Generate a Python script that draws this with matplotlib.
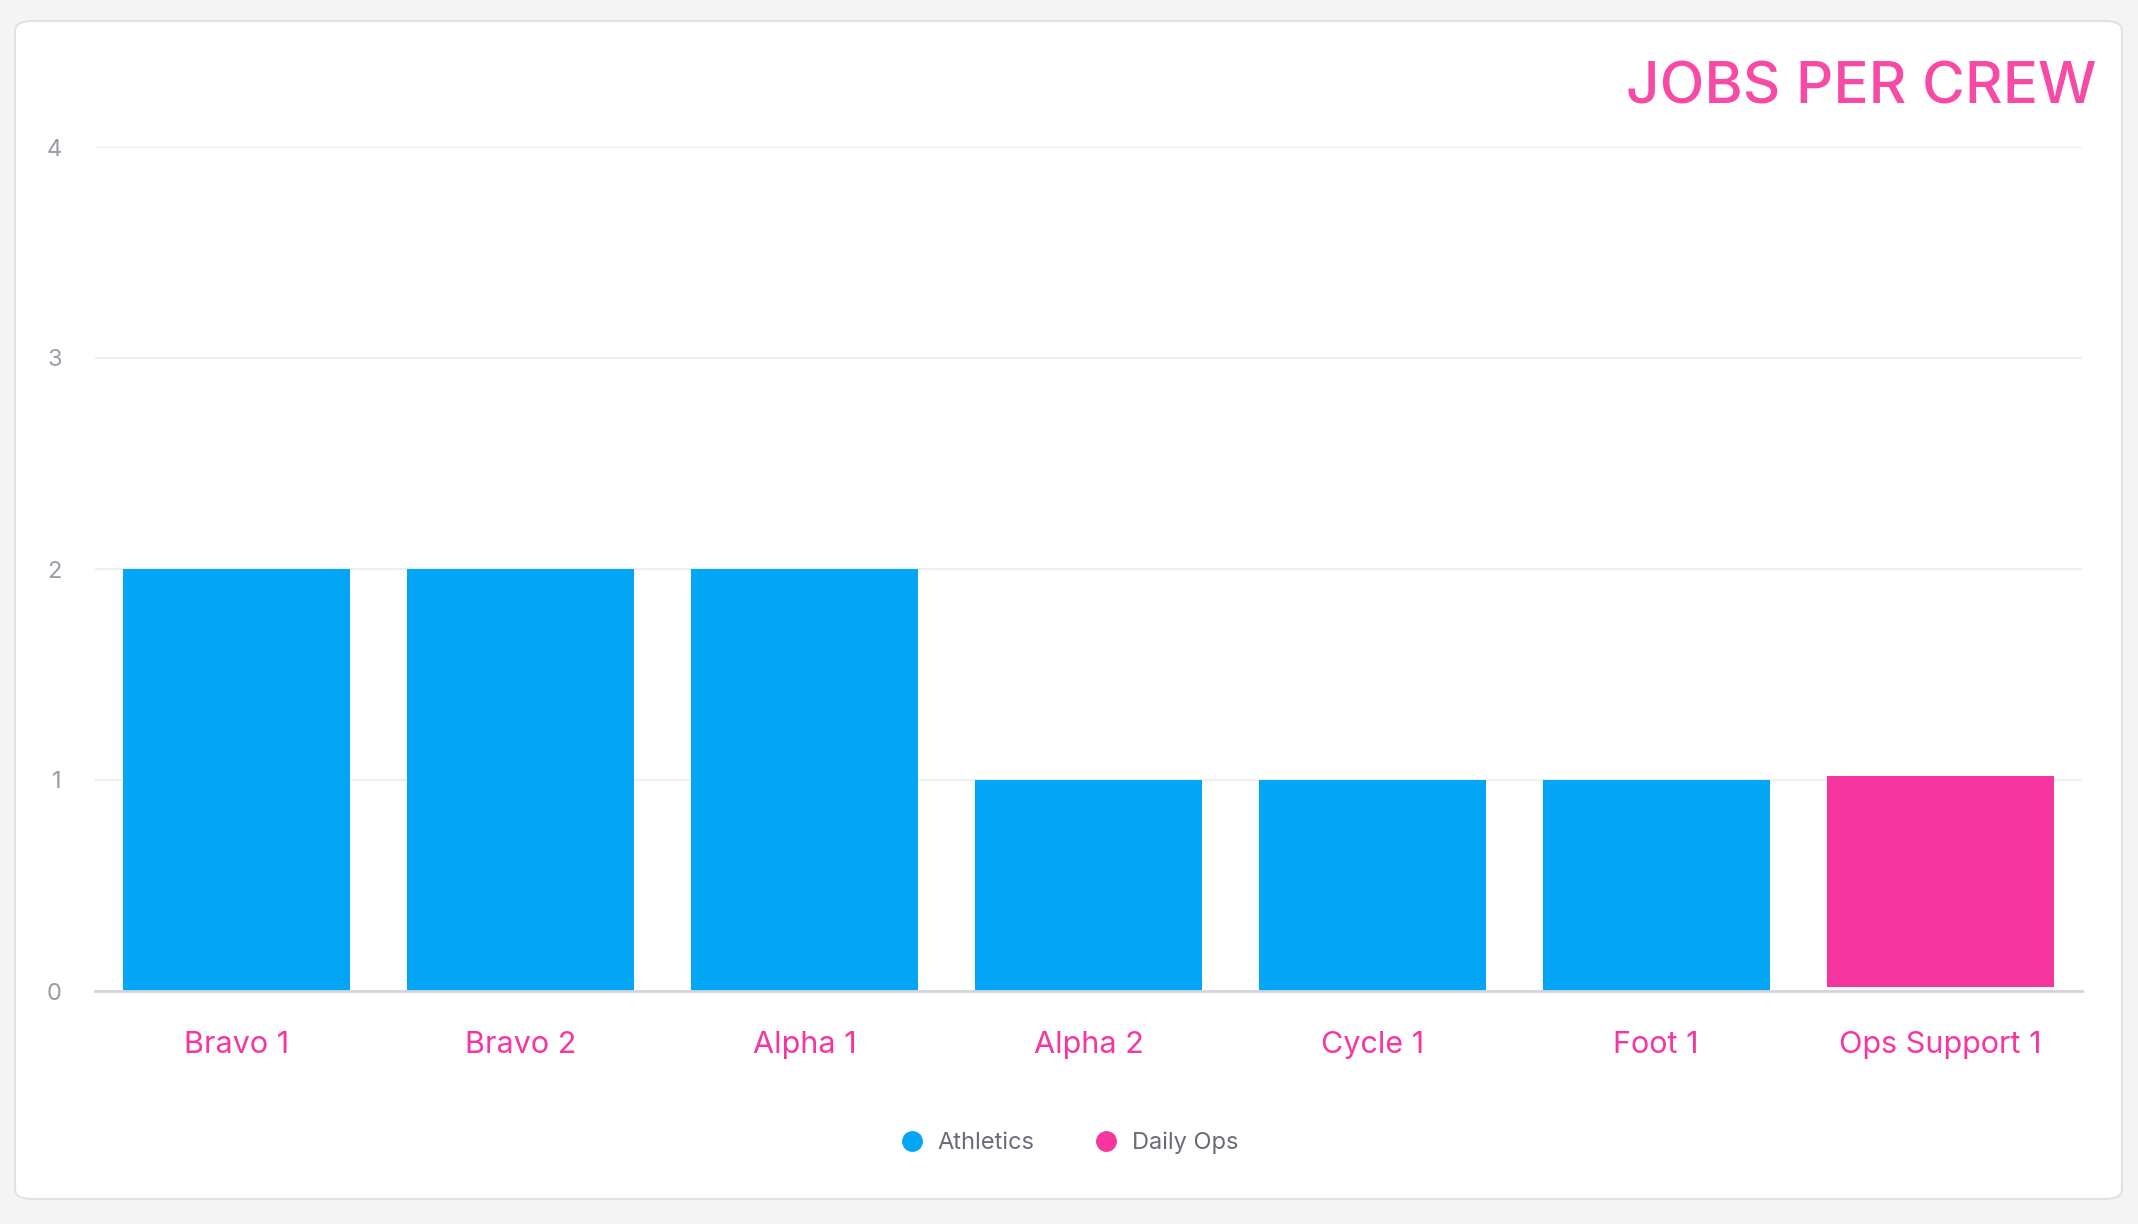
import matplotlib.pyplot as plt
from matplotlib.patches import FancyBboxPatch
from matplotlib.lines import Line2D

crews = ['Bravo 1', 'Bravo 2', 'Alpha 1', 'Alpha 2', 'Cycle 1', 'Foot 1', 'Ops Support 1']
athletics = [2, 2, 2, 1, 1, 1, 0]
daily_ops = [0, 0, 0, 0, 0, 0, 1]
y_ticks = [0, 1, 2, 3, 4]

blue = '#02a6f5'
pink = '#f7359e'
W, H = 2138, 1224

plt.rcParams['font.family'] = ['Inter', 'DejaVu Sans']

fig = plt.figure(figsize=(W / 100, H / 100), dpi=100)
fig.patch.set_facecolor('#f4f4f4')

card = FancyBboxPatch((15 / W, 25 / H), (2122 - 15) / W, (1199 - 21) / H,
                      boxstyle='round,pad=0,rounding_size=0.008',
                      transform=fig.transFigure, facecolor='white',
                      edgecolor='#e2e2e2', linewidth=1.5, zorder=-10)
fig.patches.append(card)

ax = fig.add_axes([95 / W, 1 - 991 / H, (2082 - 95) / W, (991 - 147) / H])
ax.set_facecolor('none')
ax.set_zorder(1)

x = range(len(crews))
ax.bar(x, athletics, width=0.8, color=blue, zorder=3)
# small gap where stacked segment sits on an empty one
gap = 0.017
bottoms = [a + (gap if d > 0 else 0) for a, d in zip(athletics, daily_ops)]
ax.bar(x, daily_ops, width=0.8, bottom=bottoms, color=pink, zorder=3)

ax.set_xlim(-0.5, len(crews) - 0.5)
ax.set_ylim(0, 4)
ax.set_yticks(y_ticks)
ax.set_xticks(list(x))
ax.set_xticklabels(crews)
ax.grid(axis='y', color='#efefef', linewidth=1.5, zorder=0)
for s in ['top', 'right', 'left']:
    ax.spines[s].set_visible(False)
ax.spines['bottom'].set_color('#d4d4da')
ax.spines['bottom'].set_linewidth(2)
ax.spines['bottom'].set_zorder(4)
ax.tick_params(axis='y', length=0, pad=24, labelsize=17, labelcolor='#9b9ba6')
ax.tick_params(axis='x', length=0, pad=29, labelsize=22, labelcolor=pink)

fig.text(2097 / W, 1 - 103 / H, 'JOBS PER CREW', ha='right', va='baseline',
         fontsize=42, color='#f64aa5', fontweight='medium')

handles = [Line2D([], [], marker='o', linestyle='none', markersize=14,
                  markerfacecolor=c, markeredgecolor=c) for c in (blue, pink)]
fig.legend(handles, ['Athletics', 'Daily Ops'], loc='center',
           bbox_to_anchor=(1069 / W, 1 - 1143 / H), ncol=2, frameon=False,
           fontsize=17, labelcolor='#6b6b78', handletextpad=0.6,
           columnspacing=2.5, handlelength=1.0)

fig.savefig('out.png', dpi=100, facecolor=fig.get_facecolor())
